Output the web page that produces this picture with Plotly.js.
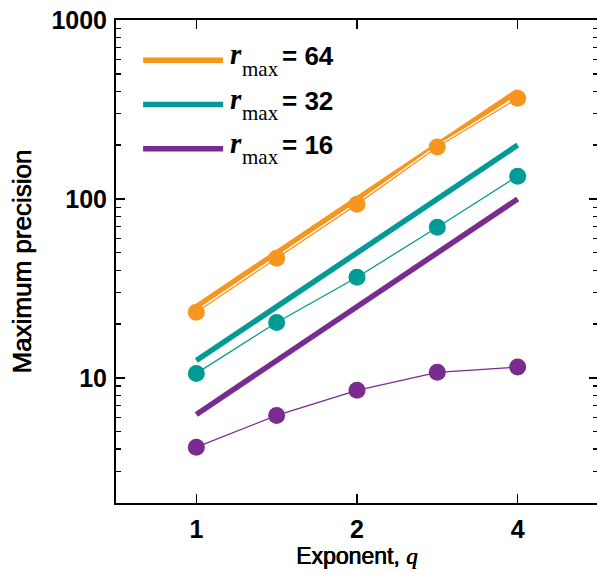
<!DOCTYPE html>
<html>
<head>
<meta charset="utf-8">
<script src="https://cdn.plot.ly/plotly-3.0.1.min.js"></script>
<style>
  html, body { margin: 0; padding: 0; overflow: hidden; background: #fff; }
  #chart { width: 600px; height: 573px; }
</style>
</head>
<body>
<div id="chart"></div>
<script>
// ---- data ----
const exponentQ = [1, 1.414, 2, 2.828, 4];
const rMax = [64, 32, 16];
const measured64 = [23.3, 46.7, 93.3, 195, 365];
const measured32 = [10.6, 20.4, 36.5, 69.5, 134];
const measured16 = [4.1, 6.17, 8.53, 10.75, 11.5];
const bound64 = [25, 50, 100, 200, 400];
const bound32 = [12.5, 25, 50, 100, 200];
const bound16 = [6.25, 12.5, 25, 50, 100];
const xTickVals = [1, 2, 4];
const xTickText = ['1', '2', '4'];

// ---- styling ----
const colors = ['#F7961F', '#009B96', '#7A2B8F'];
const measured = [measured64, measured32, measured16];
const bounds = [bound64, bound32, bound16];

const W = 600, H = 573;
const L = 115.6, PW = 482.1, T = 19.7, PH = 483.6;
const px2x = p => (p - L) / PW;
const py2y = p => (T + PH - p) / PH;

const traces = [];
bounds.forEach((b, i) => {
  traces.push({
    x: exponentQ, y: b, type: 'scatter', mode: 'lines',
    line: { color: colors[i], width: 5.5 }, showlegend: false, hoverinfo: 'skip'
  });
});
measured.forEach((m, i) => {
  traces.push({
    x: exponentQ, y: m, type: 'scatter', mode: 'lines',
    line: { color: '#ffffff', width: 4 }, showlegend: false, hoverinfo: 'skip'
  });
});
measured.forEach((m, i) => {
  traces.push({
    x: exponentQ, y: m, type: 'scatter', mode: 'lines+markers',
    line: { color: colors[i], width: 1.3 },
    marker: { color: colors[i], size: 17 },
    name: 'r_max = ' + rMax[i], showlegend: false
  });
});

// custom legend (long line samples + math-style labels)
const shapes = [];
const annotations = [];
const rowY = [60, 104.3, 148.6];
rMax.forEach((r, i) => {
  const yl = rowY[i];
  shapes.push({
    type: 'line', xref: 'paper', yref: 'paper',
    x0: px2x(142.7), x1: px2x(222.7), y0: py2y(yl), y1: py2y(yl),
    line: { color: colors[i], width: 5.5 }
  });
  annotations.push({
    xref: 'paper', yref: 'paper', x: px2x(228.5), y: py2y(yl - 6),
    xanchor: 'left', yanchor: 'middle', showarrow: false, borderpad: 0,
    text: '<i><b>r</b></i>',
    font: { family: 'Liberation Serif', size: 29, color: '#000' }
  });
  annotations.push({
    xref: 'paper', yref: 'paper', x: px2x(240.2), y: py2y(yl + 8.5),
    xanchor: 'left', yanchor: 'middle', showarrow: false, borderpad: 0,
    text: 'max',
    font: { family: 'Liberation Serif', size: 21, color: '#000' }
  });
  annotations.push({
    xref: 'paper', yref: 'paper', x: px2x(281), y: py2y(yl - 4),
    xanchor: 'left', yanchor: 'middle', showarrow: false, borderpad: 0,
    text: '<b>= ' + r + '</b>',
    font: { family: 'Liberation Sans', size: 26, color: '#000' }
  });
});

const heavy = '0.35px 0 0 #000, -0.35px 0 0 #000';

const layout = {
  width: W, height: H,
  margin: { l: L, r: W - L - PW, t: T, b: H - T - PH, pad: 0 },
  paper_bgcolor: '#fff', plot_bgcolor: '#fff',
  showlegend: false,
  font: { family: 'Liberation Sans', color: '#000' },
  xaxis: {
    type: 'log',
    range: [Math.log10(1 / Math.SQRT2), Math.log10(4 * Math.SQRT2)],
    tickmode: 'array', tickvals: xTickVals, ticktext: xTickText,
    ticks: 'inside', ticklen: 9, tickwidth: 1.5, tickcolor: '#000',
    ticklabelstandoff: 3,
    showline: true, linewidth: 2, linecolor: '#000', mirror: 'ticks',
    showgrid: false, zeroline: false,
    tickfont: { family: 'Liberation Sans', size: 25, color: '#000', weight: 'bold' },
    title: {
      text: 'Exponent, <span style="font-family:\'Liberation Serif\';font-style:italic">q</span>',
      font: { family: 'Liberation Sans', size: 23, color: '#000', shadow: heavy },
      standoff: 5
    }
  },
  yaxis: {
    type: 'log',
    range: [Math.log10(2), 3],
    dtick: 1,
    ticks: 'inside', ticklen: 9, tickwidth: 1.5, tickcolor: '#000',
    ticklabelstandoff: 2,
    minor: { ticks: 'inside', ticklen: 5, tickwidth: 1.3, tickcolor: '#000', dtick: 'D1', showgrid: false },
    showline: true, linewidth: 2, linecolor: '#000', mirror: 'ticks',
    showgrid: false, zeroline: false,
    tickfont: { family: 'Liberation Sans', size: 25, color: '#000', weight: 'bold' },
    title: {
      text: 'Maximum precision',
      font: { family: 'Liberation Sans', size: 26, color: '#000', shadow: heavy },
      standoff: 12
    }
  },
  shapes: shapes,
  annotations: annotations
};

Plotly.newPlot('chart', traces, layout, { staticPlot: true, displayModeBar: false });
</script>
</body>
</html>
